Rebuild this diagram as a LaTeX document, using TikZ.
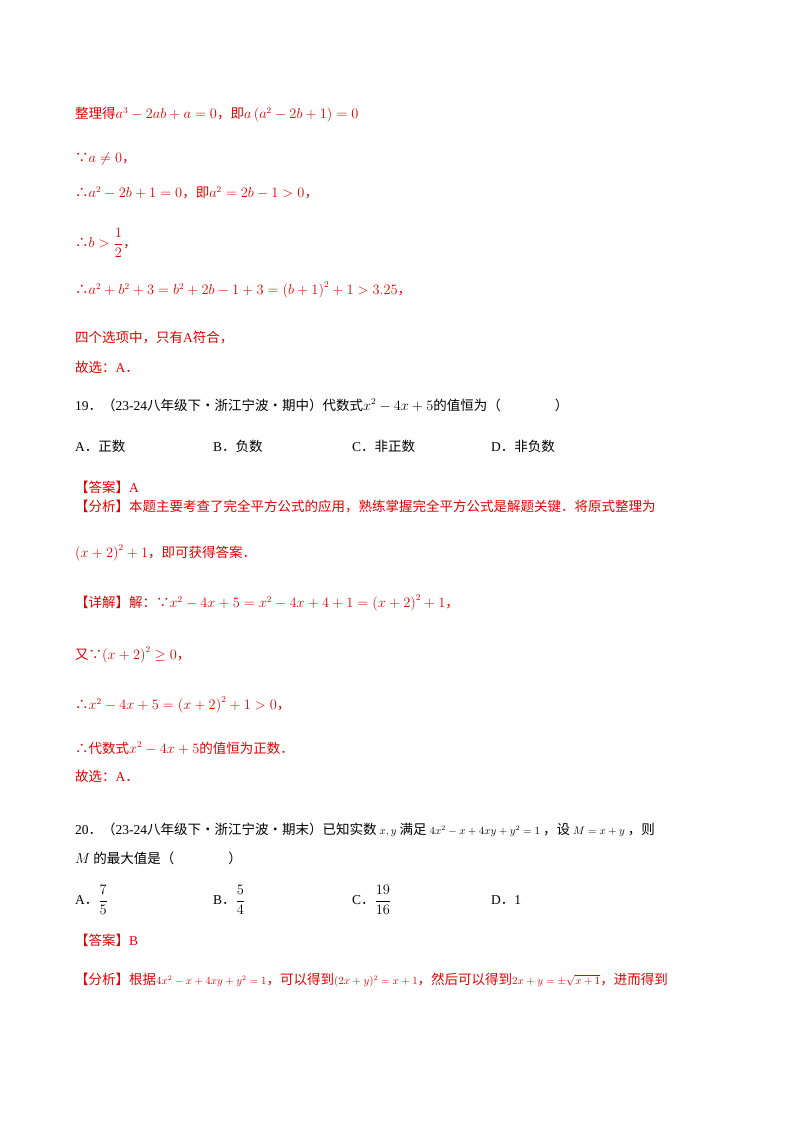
\documentclass[tikz,border=0pt]{standalone}
\usepackage{amsmath}
\usepackage{fontspec}
\setmainfont{Noto Sans CJK SC}
\newfontfamily\lat{Liberation Serif}
\newcommand{\sm}[1]{{\fontsize{10.5}{12}\selectfont$#1$}}
\begin{document}
\begin{tikzpicture}[x=1pt,y=-1pt,
  t/.style={anchor=west,inner sep=0pt,font=\fontsize{13.5}{16}\selectfont},
  r/.style={t,text=red!90!black}]
\useasboundingbox (0,0) rectangle (800,1132);
\fill[white] (0,0) rectangle (800,1132);
\node[r] (l1) at (75,115) {整理得$a^3-2ab+a=0$，即$a\left(a^2-2b+1\right)=0$};
\node[r] (l2) at (75,159) {∵$a\neq 0$，};
\node[r] (l3) at (75,193) {∴$a^2-2b+1=0$，即$a^2=2b-1>0$，};
\node[r] (l4) at (75,243) {∴$b>\dfrac{1}{2}$，};
\node[r] (l5) at (75,290) {∴$a^2+b^2+3=b^2+2b-1+3=\left(b+1\right)^2+1>3.25$，};
\node[r] (l6) at (75,338) {四个选项中，只有{\lat A}符合，};
\node[r] (l7) at (75,367) {故选：{\lat A}．};
\node[t] (q19) at (75,405) {{\lat 19}．（{\lat 23-24}八年级下·浙江宁波·期中）代数式$x^2-4x+5$的值恒为（\hspace{4em}）};
\node[t] (a19) at (75,446) {{\lat A}．正数};
\node[t] (b19) at (213,446) {{\lat B}．负数};
\node[t] (c19) at (352,446) {{\lat C}．非正数};
\node[t] (d19) at (491,446) {{\lat D}．非负数};
\node[r] (l8) at (75,487) {【答案】{\lat A}};
\node[r] (l9) at (75,506) {【分析】本题主要考查了完全平方公式的应用，熟练掌握完全平方公式是解题关键．将原式整理为};
\node[r] (l10) at (75,553) {$\left(x+2\right)^2+1$，即可获得答案．};
\node[r] (l11) at (75,603) {【详解】解：∵$x^2-4x+5=x^2-4x+4+1=\left(x+2\right)^2+1$，};
\node[r] (l12) at (75,655) {又∵$\left(x+2\right)^2\geq 0$，};
\node[r] (l13) at (75,705) {∴$x^2-4x+5=\left(x+2\right)^2+1>0$，};
\node[r] (l14) at (75,748) {∴代数式$x^2-4x+5$的值恒为正数．};
\node[r] (l15) at (75,776) {故选：{\lat A}．};
\node[t] (q20) at (75,830) {{\lat 20}．（{\lat 23-24}八年级下·浙江宁波·期末）已知实数\ \sm{x,y}\ 满足\ \sm{4x^2-x+4xy+y^2=1}\ ，设\ \sm{M=x+y}\ ，则};
\node[t] (q20b) at (75,858) {$M$\ 的最大值是（\hspace{4em}）};
\node[t] (a20) at (75,900) {{\lat A}．$\dfrac{7}{5}$};
\node[t] (b20) at (213,900) {{\lat B}．$\dfrac{5}{4}$};
\node[t] (c20) at (352,900) {{\lat C}．$\dfrac{19}{16}$};
\node[t] (d20) at (491,900) {{\lat D}．{\lat 1}};
\node[r] (l16) at (75,940) {【答案】{\lat B}};
\node[r] (l17) at (75,980) {【分析】根据\sm{4x^2-x+4xy+y^2=1}，可以得到\sm{(2x+y)^2=x+1}，然后可以得到\sm{2x+y=\pm\sqrt{x+1}}，进而得到};
\end{tikzpicture}
\end{document}
